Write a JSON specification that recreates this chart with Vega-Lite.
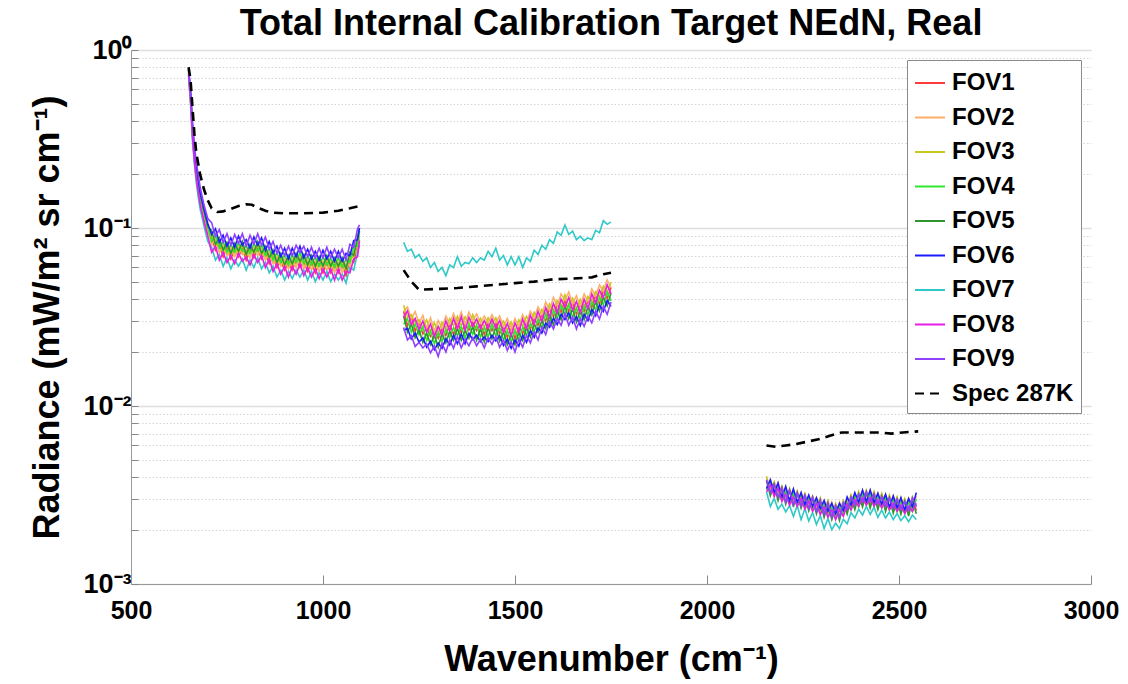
{
"$schema": "https://vega.github.io/schema/vega-lite/v6.json",
"width": 960, "height": 534,
"autosize": "none",
"padding": {"left": 131, "top": 50, "right": 37, "bottom": 100},
"background": "white",
"title": {"text": "Total Internal Calibration Target NEdN, Real", "font": "Liberation Sans", "fontSize": 36, "fontWeight": "bold", "color": "black", "anchor": "middle", "baseline": "alphabetic", "offset": 2, "dy": 37},
"config": {
  "view": {"stroke": null},
  "legend": {"orient": "top-right", "offset": 10, "fillColor": "white", "strokeColor": "#8a8a8a", "padding": 7, "title": null,
    "labelFont": "Liberation Sans", "labelFontSize": 24, "labelFontWeight": "bold", "labelColor": "black", "labelOffset": 6,
    "symbolType": "stroke", "symbolSize": 900, "symbolStrokeWidth": 2, "rowPadding": 6.5, "labelLimit": 300}
},
"datasets": {
"fov": [
{"b":"L","x":650,"FOV1":0.72,"FOV2":0.74,"FOV3":0.75,"FOV4":0.76,"FOV5":0.77,"FOV6":0.77,"FOV7":0.72,"FOV8":0.74,"FOV9":0.78},
{"b":"L","x":655,"FOV1":0.52,"FOV2":0.54,"FOV3":0.55,"FOV4":0.56,"FOV5":0.57,"FOV6":0.58,"FOV7":0.50,"FOV8":0.53,"FOV9":0.60},
{"b":"L","x":660,"FOV1":0.33,"FOV2":0.34,"FOV3":0.35,"FOV4":0.36,"FOV5":0.37,"FOV6":0.38,"FOV7":0.31,"FOV8":0.33,"FOV9":0.40},
{"b":"L","x":665,"FOV1":0.245,"FOV2":0.25,"FOV3":0.26,"FOV4":0.265,"FOV5":0.27,"FOV6":0.28,"FOV7":0.23,"FOV8":0.24,"FOV9":0.29},
{"b":"L","x":670,"FOV1":0.195,"FOV2":0.2,"FOV3":0.21,"FOV4":0.215,"FOV5":0.22,"FOV6":0.225,"FOV7":0.18,"FOV8":0.19,"FOV9":0.235},
{"b":"L","x":675,"FOV1":0.165,"FOV2":0.17,"FOV3":0.175,"FOV4":0.178,"FOV5":0.18,"FOV6":0.19,"FOV7":0.15,"FOV8":0.16,"FOV9":0.2},
{"b":"L","x":680,"FOV1":0.14,"FOV2":0.145,"FOV3":0.15,"FOV4":0.152,"FOV5":0.155,"FOV6":0.16,"FOV7":0.128,"FOV8":0.136,"FOV9":0.17},
{"b":"L","x":690,"FOV1":0.113,"FOV2":0.117,"FOV3":0.12,"FOV4":0.122,"FOV5":0.125,"FOV6":0.128,"FOV7":0.103,"FOV8":0.109,"FOV9":0.135},
{"b":"L","x":700,"FOV1":0.093,"FOV2":0.097,"FOV3":0.098,"FOV4":0.101,"FOV5":0.102,"FOV6":0.106,"FOV7":0.084,"FOV8":0.09,"FOV9":0.113},
{"b":"L","x":710,"FOV1":0.089,"FOV2":0.081,"FOV3":0.091,"FOV4":0.084,"FOV5":0.097,"FOV6":0.092,"FOV7":0.078,"FOV8":0.073,"FOV9":0.107},
{"b":"L","x":720,"FOV1":0.075,"FOV2":0.087,"FOV3":0.079,"FOV4":0.092,"FOV5":0.081,"FOV6":0.099,"FOV7":0.066,"FOV8":0.079,"FOV9":0.09},
{"b":"L","x":730,"FOV1":0.081,"FOV2":0.073,"FOV3":0.084,"FOV4":0.077,"FOV5":0.088,"FOV6":0.083,"FOV7":0.071,"FOV8":0.066,"FOV9":0.098},
{"b":"L","x":740,"FOV1":0.069,"FOV2":0.079,"FOV3":0.072,"FOV4":0.084,"FOV5":0.075,"FOV6":0.091,"FOV7":0.061,"FOV8":0.073,"FOV9":0.083},
{"b":"L","x":750,"FOV1":0.078,"FOV2":0.07,"FOV3":0.081,"FOV4":0.073,"FOV5":0.083,"FOV6":0.079,"FOV7":0.068,"FOV8":0.064,"FOV9":0.093},
{"b":"L","x":760,"FOV1":0.067,"FOV2":0.077,"FOV3":0.07,"FOV4":0.081,"FOV5":0.072,"FOV6":0.088,"FOV7":0.059,"FOV8":0.07,"FOV9":0.08},
{"b":"L","x":770,"FOV1":0.076,"FOV2":0.069,"FOV3":0.079,"FOV4":0.073,"FOV5":0.082,"FOV6":0.078,"FOV7":0.066,"FOV8":0.063,"FOV9":0.092},
{"b":"L","x":780,"FOV1":0.069,"FOV2":0.079,"FOV3":0.072,"FOV4":0.083,"FOV5":0.074,"FOV6":0.09,"FOV7":0.061,"FOV8":0.072,"FOV9":0.082},
{"b":"L","x":790,"FOV1":0.077,"FOV2":0.071,"FOV3":0.08,"FOV4":0.074,"FOV5":0.084,"FOV6":0.08,"FOV7":0.067,"FOV8":0.065,"FOV9":0.093},
{"b":"L","x":800,"FOV1":0.066,"FOV2":0.076,"FOV3":0.069,"FOV4":0.08,"FOV5":0.071,"FOV6":0.086,"FOV7":0.058,"FOV8":0.069,"FOV9":0.079},
{"b":"L","x":810,"FOV1":0.075,"FOV2":0.068,"FOV3":0.078,"FOV4":0.072,"FOV5":0.081,"FOV6":0.077,"FOV7":0.066,"FOV8":0.062,"FOV9":0.091},
{"b":"L","x":820,"FOV1":0.068,"FOV2":0.078,"FOV3":0.071,"FOV4":0.082,"FOV5":0.073,"FOV6":0.089,"FOV7":0.06,"FOV8":0.071,"FOV9":0.081},
{"b":"L","x":830,"FOV1":0.077,"FOV2":0.07,"FOV3":0.08,"FOV4":0.074,"FOV5":0.084,"FOV6":0.08,"FOV7":0.068,"FOV8":0.064,"FOV9":0.093},
{"b":"L","x":840,"FOV1":0.067,"FOV2":0.077,"FOV3":0.07,"FOV4":0.081,"FOV5":0.072,"FOV6":0.088,"FOV7":0.059,"FOV8":0.07,"FOV9":0.08},
{"b":"L","x":850,"FOV1":0.073,"FOV2":0.066,"FOV3":0.076,"FOV4":0.07,"FOV5":0.079,"FOV6":0.075,"FOV7":0.064,"FOV8":0.06,"FOV9":0.089},
{"b":"L","x":860,"FOV1":0.063,"FOV2":0.073,"FOV3":0.066,"FOV4":0.077,"FOV5":0.068,"FOV6":0.084,"FOV7":0.056,"FOV8":0.067,"FOV9":0.076},
{"b":"L","x":870,"FOV1":0.069,"FOV2":0.063,"FOV3":0.072,"FOV4":0.066,"FOV5":0.075,"FOV6":0.072,"FOV7":0.061,"FOV8":0.057,"FOV9":0.084},
{"b":"L","x":880,"FOV1":0.06,"FOV2":0.069,"FOV3":0.062,"FOV4":0.073,"FOV5":0.064,"FOV6":0.079,"FOV7":0.053,"FOV8":0.063,"FOV9":0.072},
{"b":"L","x":890,"FOV1":0.066,"FOV2":0.061,"FOV3":0.069,"FOV4":0.064,"FOV5":0.072,"FOV6":0.069,"FOV7":0.058,"FOV8":0.055,"FOV9":0.08},
{"b":"L","x":900,"FOV1":0.058,"FOV2":0.067,"FOV3":0.061,"FOV4":0.071,"FOV5":0.062,"FOV6":0.077,"FOV7":0.051,"FOV8":0.061,"FOV9":0.07},
{"b":"L","x":910,"FOV1":0.064,"FOV2":0.059,"FOV3":0.067,"FOV4":0.062,"FOV5":0.07,"FOV6":0.067,"FOV7":0.057,"FOV8":0.053,"FOV9":0.079},
{"b":"L","x":920,"FOV1":0.058,"FOV2":0.067,"FOV3":0.061,"FOV4":0.071,"FOV5":0.063,"FOV6":0.077,"FOV7":0.052,"FOV8":0.061,"FOV9":0.07},
{"b":"L","x":930,"FOV1":0.066,"FOV2":0.06,"FOV3":0.069,"FOV4":0.064,"FOV5":0.072,"FOV6":0.069,"FOV7":0.058,"FOV8":0.055,"FOV9":0.08},
{"b":"L","x":940,"FOV1":0.06,"FOV2":0.069,"FOV3":0.063,"FOV4":0.073,"FOV5":0.065,"FOV6":0.079,"FOV7":0.053,"FOV8":0.063,"FOV9":0.073},
{"b":"L","x":950,"FOV1":0.065,"FOV2":0.059,"FOV3":0.068,"FOV4":0.063,"FOV5":0.071,"FOV6":0.068,"FOV7":0.058,"FOV8":0.054,"FOV9":0.079},
{"b":"L","x":960,"FOV1":0.057,"FOV2":0.066,"FOV3":0.06,"FOV4":0.07,"FOV5":0.062,"FOV6":0.076,"FOV7":0.051,"FOV8":0.06,"FOV9":0.069},
{"b":"L","x":970,"FOV1":0.064,"FOV2":0.058,"FOV3":0.067,"FOV4":0.062,"FOV5":0.07,"FOV6":0.067,"FOV7":0.057,"FOV8":0.053,"FOV9":0.078},
{"b":"L","x":980,"FOV1":0.056,"FOV2":0.065,"FOV3":0.059,"FOV4":0.069,"FOV5":0.061,"FOV6":0.074,"FOV7":0.05,"FOV8":0.059,"FOV9":0.068},
{"b":"L","x":990,"FOV1":0.063,"FOV2":0.057,"FOV3":0.066,"FOV4":0.061,"FOV5":0.069,"FOV6":0.066,"FOV7":0.056,"FOV8":0.052,"FOV9":0.077},
{"b":"L","x":1000,"FOV1":0.056,"FOV2":0.065,"FOV3":0.06,"FOV4":0.069,"FOV5":0.061,"FOV6":0.075,"FOV7":0.051,"FOV8":0.059,"FOV9":0.068},
{"b":"L","x":1010,"FOV1":0.064,"FOV2":0.058,"FOV3":0.067,"FOV4":0.062,"FOV5":0.07,"FOV6":0.067,"FOV7":0.057,"FOV8":0.053,"FOV9":0.078},
{"b":"L","x":1020,"FOV1":0.056,"FOV2":0.065,"FOV3":0.059,"FOV4":0.068,"FOV5":0.061,"FOV6":0.074,"FOV7":0.05,"FOV8":0.059,"FOV9":0.068},
{"b":"L","x":1030,"FOV1":0.062,"FOV2":0.056,"FOV3":0.065,"FOV4":0.06,"FOV5":0.068,"FOV6":0.065,"FOV7":0.055,"FOV8":0.051,"FOV9":0.076},
{"b":"L","x":1040,"FOV1":0.056,"FOV2":0.065,"FOV3":0.059,"FOV4":0.069,"FOV5":0.061,"FOV6":0.074,"FOV7":0.051,"FOV8":0.059,"FOV9":0.068},
{"b":"L","x":1050,"FOV1":0.062,"FOV2":0.056,"FOV3":0.065,"FOV4":0.06,"FOV5":0.068,"FOV6":0.065,"FOV7":0.055,"FOV8":0.051,"FOV9":0.076},
{"b":"L","x":1060,"FOV1":0.054,"FOV2":0.063,"FOV3":0.058,"FOV4":0.067,"FOV5":0.059,"FOV6":0.072,"FOV7":0.049,"FOV8":0.057,"FOV9":0.066},
{"b":"L","x":1070,"FOV1":0.067,"FOV2":0.061,"FOV3":0.07,"FOV4":0.064,"FOV5":0.073,"FOV6":0.07,"FOV7":0.06,"FOV8":0.056,"FOV9":0.081},
{"b":"L","x":1080,"FOV1":0.064,"FOV2":0.074,"FOV3":0.068,"FOV4":0.079,"FOV5":0.07,"FOV6":0.085,"FOV7":0.058,"FOV8":0.067,"FOV9":0.078},
{"b":"L","x":1090,"FOV1":0.082,"FOV2":0.075,"FOV3":0.085,"FOV4":0.079,"FOV5":0.089,"FOV6":0.086,"FOV7":0.073,"FOV8":0.069,"FOV9":0.099},
{"b":"L","x":1095,"FOV1":0.086,"FOV2":0.09,"FOV3":0.093,"FOV4":0.096,"FOV5":0.1,"FOV6":0.1,"FOV7":0.08,"FOV8":0.085,"FOV9":0.104},
{"b":"M","x":1210,"FOV1":0.034,"FOV2":0.034,"FOV3":0.0368,"FOV4":0.0288,"FOV5":0.0321,"FOV6":0.0266,"FOV7":0.083,"FOV8":0.0316,"FOV9":0.0276},
{"b":"M","x":1220,"FOV1":0.0282,"FOV2":0.036,"FOV3":0.0314,"FOV4":0.031,"FOV5":0.026,"FOV6":0.0273,"FOV7":0.074,"FOV8":0.0342,"FOV9":0.0235},
{"b":"M","x":1230,"FOV1":0.0318,"FOV2":0.031,"FOV3":0.0326,"FOV4":0.026,"FOV5":0.0289,"FOV6":0.0238,"FOV7":0.076,"FOV8":0.0288,"FOV9":0.0249},
{"b":"M","x":1240,"FOV1":0.0263,"FOV2":0.0339,"FOV3":0.0295,"FOV4":0.0289,"FOV5":0.0242,"FOV6":0.0257,"FOV7":0.068,"FOV8":0.031,"FOV9":0.0216},
{"b":"M","x":1250,"FOV1":0.0297,"FOV2":0.0291,"FOV3":0.0305,"FOV4":0.0251,"FOV5":0.0268,"FOV6":0.0228,"FOV7":0.071,"FOV8":0.027,"FOV9":0.0228},
{"b":"M","x":1260,"FOV1":0.0254,"FOV2":0.0323,"FOV3":0.0276,"FOV4":0.0278,"FOV5":0.0228,"FOV6":0.0242,"FOV7":0.065,"FOV8":0.03,"FOV9":0.0212},
{"b":"M","x":1270,"FOV1":0.0276,"FOV2":0.0273,"FOV3":0.0305,"FOV4":0.0233,"FOV5":0.0257,"FOV6":0.0214,"FOV7":0.068,"FOV8":0.026,"FOV9":0.0223},
{"b":"M","x":1280,"FOV1":0.0246,"FOV2":0.0313,"FOV3":0.0261,"FOV4":0.0265,"FOV5":0.0221,"FOV6":0.0231,"FOV7":0.06,"FOV8":0.0289,"FOV9":0.0199},
{"b":"M","x":1290,"FOV1":0.0265,"FOV2":0.0263,"FOV3":0.0294,"FOV4":0.0223,"FOV5":0.0251,"FOV6":0.0207,"FOV7":0.064,"FOV8":0.0246,"FOV9":0.0217},
{"b":"M","x":1300,"FOV1":0.024,"FOV2":0.0302,"FOV3":0.0257,"FOV4":0.0259,"FOV5":0.0214,"FOV6":0.0226,"FOV7":0.057,"FOV8":0.028,"FOV9":0.019},
{"b":"M","x":1310,"FOV1":0.0273,"FOV2":0.0274,"FOV3":0.0296,"FOV4":0.0231,"FOV5":0.0255,"FOV6":0.0211,"FOV7":0.06,"FOV8":0.0251,"FOV9":0.0225},
{"b":"M","x":1320,"FOV1":0.0249,"FOV2":0.032,"FOV3":0.0274,"FOV4":0.027,"FOV5":0.0226,"FOV6":0.0239,"FOV7":0.054,"FOV8":0.0301,"FOV9":0.0201},
{"b":"M","x":1330,"FOV1":0.0288,"FOV2":0.0288,"FOV3":0.031,"FOV4":0.0242,"FOV5":0.0263,"FOV6":0.022,"FOV7":0.062,"FOV8":0.0265,"FOV9":0.0235},
{"b":"M","x":1340,"FOV1":0.0252,"FOV2":0.0331,"FOV3":0.0283,"FOV4":0.0276,"FOV5":0.0234,"FOV6":0.025,"FOV7":0.06,"FOV8":0.031,"FOV9":0.0211},
{"b":"M","x":1350,"FOV1":0.0299,"FOV2":0.029,"FOV3":0.0319,"FOV4":0.0249,"FOV5":0.0274,"FOV6":0.0224,"FOV7":0.069,"FOV8":0.0272,"FOV9":0.0246},
{"b":"M","x":1360,"FOV1":0.0259,"FOV2":0.0337,"FOV3":0.0283,"FOV4":0.028,"FOV5":0.0234,"FOV6":0.0254,"FOV7":0.061,"FOV8":0.0317,"FOV9":0.0212},
{"b":"M","x":1370,"FOV1":0.0288,"FOV2":0.0288,"FOV3":0.0317,"FOV4":0.024,"FOV5":0.0265,"FOV6":0.0224,"FOV7":0.064,"FOV8":0.0266,"FOV9":0.0237},
{"b":"M","x":1380,"FOV1":0.0267,"FOV2":0.0337,"FOV3":0.0287,"FOV4":0.0287,"FOV5":0.024,"FOV6":0.0256,"FOV7":0.063,"FOV8":0.0315,"FOV9":0.0218},
{"b":"M","x":1390,"FOV1":0.0295,"FOV2":0.0303,"FOV3":0.0326,"FOV4":0.0253,"FOV5":0.028,"FOV6":0.0236,"FOV7":0.068,"FOV8":0.0281,"FOV9":0.0242},
{"b":"M","x":1400,"FOV1":0.0265,"FOV2":0.0329,"FOV3":0.0287,"FOV4":0.0285,"FOV5":0.0234,"FOV6":0.025,"FOV7":0.064,"FOV8":0.0308,"FOV9":0.0218},
{"b":"M","x":1410,"FOV1":0.0288,"FOV2":0.0293,"FOV3":0.0311,"FOV4":0.0244,"FOV5":0.0272,"FOV6":0.023,"FOV7":0.068,"FOV8":0.0273,"FOV9":0.0237},
{"b":"M","x":1420,"FOV1":0.0252,"FOV2":0.032,"FOV3":0.0277,"FOV4":0.0276,"FOV5":0.0229,"FOV6":0.0244,"FOV7":0.066,"FOV8":0.0302,"FOV9":0.0212},
{"b":"M","x":1430,"FOV1":0.0293,"FOV2":0.0293,"FOV3":0.0313,"FOV4":0.0244,"FOV5":0.0276,"FOV6":0.023,"FOV7":0.074,"FOV8":0.0273,"FOV9":0.0242},
{"b":"M","x":1440,"FOV1":0.0265,"FOV2":0.0326,"FOV3":0.0289,"FOV4":0.0289,"FOV5":0.0238,"FOV6":0.025,"FOV7":0.069,"FOV8":0.0308,"FOV9":0.0222},
{"b":"M","x":1450,"FOV1":0.0293,"FOV2":0.0295,"FOV3":0.0313,"FOV4":0.0247,"FOV5":0.0278,"FOV6":0.0232,"FOV7":0.077,"FOV8":0.0275,"FOV9":0.0246},
{"b":"M","x":1460,"FOV1":0.0256,"FOV2":0.032,"FOV3":0.0279,"FOV4":0.0278,"FOV5":0.0231,"FOV6":0.0248,"FOV7":0.066,"FOV8":0.0302,"FOV9":0.0214},
{"b":"M","x":1470,"FOV1":0.0278,"FOV2":0.028,"FOV3":0.03,"FOV4":0.0234,"FOV5":0.0261,"FOV6":0.0219,"FOV7":0.07,"FOV8":0.026,"FOV9":0.0235},
{"b":"M","x":1480,"FOV1":0.0243,"FOV2":0.031,"FOV3":0.0266,"FOV4":0.0265,"FOV5":0.0221,"FOV6":0.0237,"FOV7":0.062,"FOV8":0.0291,"FOV9":0.0205},
{"b":"M","x":1490,"FOV1":0.0278,"FOV2":0.0271,"FOV3":0.0296,"FOV4":0.0229,"FOV5":0.0253,"FOV6":0.0211,"FOV7":0.069,"FOV8":0.0249,"FOV9":0.0229},
{"b":"M","x":1500,"FOV1":0.024,"FOV2":0.031,"FOV3":0.0262,"FOV4":0.0265,"FOV5":0.0221,"FOV6":0.0235,"FOV7":0.062,"FOV8":0.0293,"FOV9":0.0201},
{"b":"M","x":1510,"FOV1":0.0278,"FOV2":0.028,"FOV3":0.0305,"FOV4":0.0234,"FOV5":0.0259,"FOV6":0.0217,"FOV7":0.069,"FOV8":0.026,"FOV9":0.0237},
{"b":"M","x":1520,"FOV1":0.0256,"FOV2":0.0326,"FOV3":0.0281,"FOV4":0.0278,"FOV5":0.0233,"FOV6":0.025,"FOV7":0.06,"FOV8":0.0308,"FOV9":0.0214},
{"b":"M","x":1530,"FOV1":0.0295,"FOV2":0.0291,"FOV3":0.0319,"FOV4":0.0249,"FOV5":0.0276,"FOV6":0.0228,"FOV7":0.068,"FOV8":0.0272,"FOV9":0.025},
{"b":"M","x":1540,"FOV1":0.0271,"FOV2":0.0341,"FOV3":0.0295,"FOV4":0.0291,"FOV5":0.0244,"FOV6":0.0265,"FOV7":0.065,"FOV8":0.0323,"FOV9":0.0226},
{"b":"M","x":1550,"FOV1":0.031,"FOV2":0.0312,"FOV3":0.0336,"FOV4":0.0262,"FOV5":0.0289,"FOV6":0.0243,"FOV7":0.075,"FOV8":0.0288,"FOV9":0.0261},
{"b":"M","x":1560,"FOV1":0.0284,"FOV2":0.036,"FOV3":0.0312,"FOV4":0.0308,"FOV5":0.026,"FOV6":0.0275,"FOV7":0.071,"FOV8":0.034,"FOV9":0.0235},
{"b":"M","x":1570,"FOV1":0.0326,"FOV2":0.0327,"FOV3":0.0349,"FOV4":0.0273,"FOV5":0.0302,"FOV6":0.0257,"FOV7":0.08,"FOV8":0.0299,"FOV9":0.0278},
{"b":"M","x":1580,"FOV1":0.0301,"FOV2":0.0384,"FOV3":0.0325,"FOV4":0.033,"FOV5":0.0272,"FOV6":0.0292,"FOV7":0.076,"FOV8":0.0357,"FOV9":0.0252},
{"b":"M","x":1590,"FOV1":0.0352,"FOV2":0.0346,"FOV3":0.0374,"FOV4":0.029,"FOV5":0.0323,"FOV6":0.0277,"FOV7":0.086,"FOV8":0.0314,"FOV9":0.0299},
{"b":"M","x":1600,"FOV1":0.0318,"FOV2":0.0407,"FOV3":0.0342,"FOV4":0.0345,"FOV5":0.0286,"FOV6":0.0311,"FOV7":0.082,"FOV8":0.0377,"FOV9":0.0271},
{"b":"M","x":1610,"FOV1":0.0373,"FOV2":0.0365,"FOV3":0.0391,"FOV4":0.0309,"FOV5":0.0345,"FOV6":0.0287,"FOV7":0.095,"FOV8":0.0333,"FOV9":0.031},
{"b":"M","x":1620,"FOV1":0.0337,"FOV2":0.0426,"FOV3":0.0363,"FOV4":0.0366,"FOV5":0.0305,"FOV6":0.0328,"FOV7":0.091,"FOV8":0.0398,"FOV9":0.0284},
{"b":"M","x":1630,"FOV1":0.0394,"FOV2":0.0393,"FOV3":0.0422,"FOV4":0.0327,"FOV5":0.0366,"FOV6":0.0306,"FOV7":0.104,"FOV8":0.0361,"FOV9":0.0331},
{"b":"M","x":1640,"FOV1":0.034,"FOV2":0.0437,"FOV3":0.0369,"FOV4":0.0372,"FOV5":0.0309,"FOV6":0.0334,"FOV7":0.092,"FOV8":0.0407,"FOV9":0.0284},
{"b":"M","x":1650,"FOV1":0.0379,"FOV2":0.0374,"FOV3":0.0403,"FOV4":0.0314,"FOV5":0.0351,"FOV6":0.0293,"FOV7":0.096,"FOV8":0.0346,"FOV9":0.0316},
{"b":"M","x":1660,"FOV1":0.0327,"FOV2":0.0416,"FOV3":0.0353,"FOV4":0.0355,"FOV5":0.0296,"FOV6":0.0317,"FOV7":0.086,"FOV8":0.0387,"FOV9":0.0271},
{"b":"M","x":1670,"FOV1":0.0373,"FOV2":0.0365,"FOV3":0.0397,"FOV4":0.0305,"FOV5":0.0345,"FOV6":0.0283,"FOV7":0.09,"FOV8":0.0333,"FOV9":0.031},
{"b":"M","x":1680,"FOV1":0.034,"FOV2":0.0426,"FOV3":0.0363,"FOV4":0.0366,"FOV5":0.0305,"FOV6":0.0328,"FOV7":0.085,"FOV8":0.0398,"FOV9":0.028},
{"b":"M","x":1690,"FOV1":0.039,"FOV2":0.0387,"FOV3":0.0412,"FOV4":0.0324,"FOV5":0.0362,"FOV6":0.0302,"FOV7":0.088,"FOV8":0.0352,"FOV9":0.032},
{"b":"M","x":1700,"FOV1":0.0359,"FOV2":0.0454,"FOV3":0.039,"FOV4":0.0387,"FOV5":0.0324,"FOV6":0.0349,"FOV7":0.086,"FOV8":0.0426,"FOV9":0.0293},
{"b":"M","x":1710,"FOV1":0.0416,"FOV2":0.0415,"FOV3":0.0439,"FOV4":0.0346,"FOV5":0.0387,"FOV6":0.0321,"FOV7":0.097,"FOV8":0.0379,"FOV9":0.0341},
{"b":"M","x":1720,"FOV1":0.0374,"FOV2":0.0479,"FOV3":0.041,"FOV4":0.0409,"FOV5":0.0342,"FOV6":0.037,"FOV7":0.094,"FOV8":0.0447,"FOV9":0.0308},
{"b":"M","x":1730,"FOV1":0.0447,"FOV2":0.044,"FOV3":0.047,"FOV4":0.037,"FOV5":0.0409,"FOV6":0.034,"FOV7":0.11,"FOV8":0.0407,"FOV9":0.0363},
{"b":"M","x":1740,"FOV1":0.0402,"FOV2":0.0511,"FOV3":0.0435,"FOV4":0.0437,"FOV5":0.0365,"FOV6":0.0391,"FOV7":0.105,"FOV8":0.0479,"FOV9":0.0327},
{"b":"M","x":1750,"FOV1":0.0464,"FOV2":0.0462,"FOV3":0.0496,"FOV4":0.0389,"FOV5":0.043,"FOV6":0.0363,"FOV7":0.108,"FOV8":0.0426,"FOV9":0.0384},
{"b":"S","x":2155,"FOV1":0.00385,"FOV2":0.00344,"FOV3":0.00403,"FOV4":0.00338,"FOV5":0.00378,"FOV6":0.00344,"FOV7":0.00329,"FOV8":0.00329,"FOV9":0.00385},
{"b":"S","x":2165,"FOV1":0.00326,"FOV2":0.00385,"FOV3":0.00338,"FOV4":0.00376,"FOV5":0.00313,"FOV6":0.00385,"FOV7":0.00273,"FOV8":0.0036,"FOV9":0.00326},
{"b":"S","x":2175,"FOV1":0.00369,"FOV2":0.00316,"FOV3":0.00376,"FOV4":0.0032,"FOV5":0.00362,"FOV6":0.00326,"FOV7":0.00302,"FOV8":0.0031,"FOV9":0.00364},
{"b":"S","x":2185,"FOV1":0.00307,"FOV2":0.00369,"FOV3":0.0032,"FOV4":0.0035,"FOV5":0.00294,"FOV6":0.00369,"FOV7":0.00263,"FOV8":0.00345,"FOV9":0.00307},
{"b":"S","x":2195,"FOV1":0.00342,"FOV2":0.00307,"FOV3":0.00355,"FOV4":0.00296,"FOV5":0.00346,"FOV6":0.00307,"FOV7":0.00281,"FOV8":0.00291,"FOV9":0.00348},
{"b":"S","x":2205,"FOV1":0.00293,"FOV2":0.00348,"FOV3":0.00301,"FOV4":0.00329,"FOV5":0.00281,"FOV6":0.00353,"FOV7":0.00254,"FOV8":0.00318,"FOV9":0.00288},
{"b":"S","x":2215,"FOV1":0.00332,"FOV2":0.00288,"FOV3":0.00345,"FOV4":0.00282,"FOV5":0.00335,"FOV6":0.00293,"FOV7":0.00276,"FOV8":0.00277,"FOV9":0.00337},
{"b":"S","x":2225,"FOV1":0.00279,"FOV2":0.00337,"FOV3":0.00291,"FOV4":0.00323,"FOV5":0.00271,"FOV6":0.00342,"FOV7":0.0024,"FOV8":0.00307,"FOV9":0.00279},
{"b":"S","x":2235,"FOV1":0.00326,"FOV2":0.00279,"FOV3":0.00334,"FOV4":0.00277,"FOV5":0.00324,"FOV6":0.00288,"FOV7":0.00276,"FOV8":0.00273,"FOV9":0.00326},
{"b":"S","x":2245,"FOV1":0.00274,"FOV2":0.00326,"FOV3":0.00282,"FOV4":0.00313,"FOV5":0.00267,"FOV6":0.00326,"FOV7":0.0023,"FOV8":0.00302,"FOV9":0.00274},
{"b":"S","x":2255,"FOV1":0.0031,"FOV2":0.00274,"FOV3":0.00323,"FOV4":0.00268,"FOV5":0.00313,"FOV6":0.00279,"FOV7":0.00265,"FOV8":0.00263,"FOV9":0.00316},
{"b":"S","x":2265,"FOV1":0.00265,"FOV2":0.0031,"FOV3":0.00277,"FOV4":0.00302,"FOV5":0.00258,"FOV6":0.00316,"FOV7":0.00226,"FOV8":0.00292,"FOV9":0.00265},
{"b":"S","x":2275,"FOV1":0.00305,"FOV2":0.00265,"FOV3":0.00313,"FOV4":0.00259,"FOV5":0.00302,"FOV6":0.00274,"FOV7":0.00252,"FOV8":0.00256,"FOV9":0.00308},
{"b":"S","x":2285,"FOV1":0.00256,"FOV2":0.00305,"FOV3":0.00268,"FOV4":0.00292,"FOV5":0.00248,"FOV6":0.00305,"FOV7":0.00216,"FOV8":0.00284,"FOV9":0.00256},
{"b":"S","x":2295,"FOV1":0.00294,"FOV2":0.00253,"FOV3":0.00305,"FOV4":0.00249,"FOV5":0.00289,"FOV6":0.00265,"FOV7":0.00242,"FOV8":0.00246,"FOV9":0.00297},
{"b":"S","x":2305,"FOV1":0.00246,"FOV2":0.00294,"FOV3":0.00259,"FOV4":0.00281,"FOV5":0.00237,"FOV6":0.00294,"FOV7":0.00205,"FOV8":0.0027,"FOV9":0.00246},
{"b":"S","x":2315,"FOV1":0.00284,"FOV2":0.00246,"FOV3":0.00295,"FOV4":0.0024,"FOV5":0.00279,"FOV6":0.00256,"FOV7":0.00233,"FOV8":0.00237,"FOV9":0.00287},
{"b":"S","x":2325,"FOV1":0.00237,"FOV2":0.00287,"FOV3":0.00249,"FOV4":0.0027,"FOV5":0.0023,"FOV6":0.00284,"FOV7":0.00202,"FOV8":0.0026,"FOV9":0.00237},
{"b":"S","x":2335,"FOV1":0.00276,"FOV2":0.00237,"FOV3":0.00284,"FOV4":0.00233,"FOV5":0.0027,"FOV6":0.00249,"FOV7":0.0022,"FOV8":0.0023,"FOV9":0.00276},
{"b":"S","x":2345,"FOV1":0.00237,"FOV2":0.00287,"FOV3":0.00249,"FOV4":0.00273,"FOV5":0.00228,"FOV6":0.00284,"FOV7":0.00205,"FOV8":0.00263,"FOV9":0.00237},
{"b":"S","x":2355,"FOV1":0.00287,"FOV2":0.00246,"FOV3":0.00295,"FOV4":0.00243,"FOV5":0.00281,"FOV6":0.00259,"FOV7":0.00231,"FOV8":0.0024,"FOV9":0.00287},
{"b":"S","x":2365,"FOV1":0.00256,"FOV2":0.00302,"FOV3":0.00271,"FOV4":0.00288,"FOV5":0.00247,"FOV6":0.00308,"FOV7":0.00218,"FOV8":0.00281,"FOV9":0.00262},
{"b":"S","x":2375,"FOV1":0.00308,"FOV2":0.00268,"FOV3":0.00318,"FOV4":0.00261,"FOV5":0.00305,"FOV6":0.00277,"FOV7":0.00252,"FOV8":0.00261,"FOV9":0.00308},
{"b":"S","x":2385,"FOV1":0.00268,"FOV2":0.00321,"FOV3":0.0028,"FOV4":0.0031,"FOV5":0.00262,"FOV6":0.00326,"FOV7":0.00235,"FOV8":0.00297,"FOV9":0.00279},
{"b":"S","x":2395,"FOV1":0.00321,"FOV2":0.00277,"FOV3":0.00331,"FOV4":0.00271,"FOV5":0.00319,"FOV6":0.00288,"FOV7":0.00263,"FOV8":0.00273,"FOV9":0.00319},
{"b":"S","x":2405,"FOV1":0.00277,"FOV2":0.00334,"FOV3":0.0029,"FOV4":0.00318,"FOV5":0.00271,"FOV6":0.00337,"FOV7":0.00244,"FOV8":0.00305,"FOV9":0.0029},
{"b":"S","x":2415,"FOV1":0.00326,"FOV2":0.00284,"FOV3":0.00337,"FOV4":0.0028,"FOV5":0.00326,"FOV6":0.0029,"FOV7":0.00273,"FOV8":0.00277,"FOV9":0.0033},
{"b":"S","x":2425,"FOV1":0.00277,"FOV2":0.00334,"FOV3":0.0029,"FOV4":0.0032,"FOV5":0.00267,"FOV6":0.00337,"FOV7":0.00246,"FOV8":0.00305,"FOV9":0.0029},
{"b":"S","x":2435,"FOV1":0.00323,"FOV2":0.00277,"FOV3":0.00331,"FOV4":0.00273,"FOV5":0.00319,"FOV6":0.00286,"FOV7":0.0027,"FOV8":0.00274,"FOV9":0.00321},
{"b":"S","x":2445,"FOV1":0.0027,"FOV2":0.00323,"FOV3":0.0028,"FOV4":0.0031,"FOV5":0.00262,"FOV6":0.00323,"FOV7":0.00237,"FOV8":0.00297,"FOV9":0.00281},
{"b":"S","x":2455,"FOV1":0.00316,"FOV2":0.00272,"FOV3":0.00323,"FOV4":0.00268,"FOV5":0.00311,"FOV6":0.00281,"FOV7":0.0026,"FOV8":0.00268,"FOV9":0.0031},
{"b":"S","x":2465,"FOV1":0.00265,"FOV2":0.00316,"FOV3":0.00274,"FOV4":0.00305,"FOV5":0.00256,"FOV6":0.00319,"FOV7":0.00235,"FOV8":0.00292,"FOV9":0.00274},
{"b":"S","x":2475,"FOV1":0.00308,"FOV2":0.00265,"FOV3":0.00316,"FOV4":0.00261,"FOV5":0.00305,"FOV6":0.0027,"FOV7":0.00254,"FOV8":0.00261,"FOV9":0.00305},
{"b":"S","x":2485,"FOV1":0.00259,"FOV2":0.00312,"FOV3":0.00271,"FOV4":0.00299,"FOV5":0.0025,"FOV6":0.00312,"FOV7":0.0023,"FOV8":0.00284,"FOV9":0.00268},
{"b":"S","x":2495,"FOV1":0.00302,"FOV2":0.00259,"FOV3":0.00309,"FOV4":0.00256,"FOV5":0.00297,"FOV6":0.00268,"FOV7":0.00249,"FOV8":0.00256,"FOV9":0.003},
{"b":"S","x":2505,"FOV1":0.00253,"FOV2":0.00305,"FOV3":0.00263,"FOV4":0.00292,"FOV5":0.00247,"FOV6":0.00305,"FOV7":0.00227,"FOV8":0.00278,"FOV9":0.00262},
{"b":"S","x":2515,"FOV1":0.00294,"FOV2":0.00256,"FOV3":0.00302,"FOV4":0.00249,"FOV5":0.00292,"FOV6":0.0026,"FOV7":0.00242,"FOV8":0.00249,"FOV9":0.00291},
{"b":"S","x":2525,"FOV1":0.00249,"FOV2":0.00302,"FOV3":0.00261,"FOV4":0.00288,"FOV5":0.00241,"FOV6":0.00302,"FOV7":0.00224,"FOV8":0.00273,"FOV9":0.0026},
{"b":"S","x":2535,"FOV1":0.00302,"FOV2":0.00259,"FOV3":0.00309,"FOV4":0.00256,"FOV5":0.00297,"FOV6":0.00272,"FOV7":0.00244,"FOV8":0.00256,"FOV9":0.00305},
{"b":"S","x":2545,"FOV1":0.00259,"FOV2":0.00312,"FOV3":0.00271,"FOV4":0.00299,"FOV5":0.00248,"FOV6":0.00326,"FOV7":0.0023,"FOV8":0.00284,"FOV9":0.00272}
],
"spec": [
{"b":"L","x":650,"s":"Spec 287K","v":0.8},
{"b":"L","x":655,"s":"Spec 287K","v":0.68},
{"b":"L","x":660,"s":"Spec 287K","v":0.48},
{"b":"L","x":665,"s":"Spec 287K","v":0.34},
{"b":"L","x":670,"s":"Spec 287K","v":0.265},
{"b":"L","x":680,"s":"Spec 287K","v":0.2},
{"b":"L","x":690,"s":"Spec 287K","v":0.165},
{"b":"L","x":700,"s":"Spec 287K","v":0.143},
{"b":"L","x":710,"s":"Spec 287K","v":0.129},
{"b":"L","x":725,"s":"Spec 287K","v":0.123},
{"b":"L","x":740,"s":"Spec 287K","v":0.124},
{"b":"L","x":760,"s":"Spec 287K","v":0.128},
{"b":"L","x":780,"s":"Spec 287K","v":0.133},
{"b":"L","x":800,"s":"Spec 287K","v":0.136},
{"b":"L","x":815,"s":"Spec 287K","v":0.135},
{"b":"L","x":830,"s":"Spec 287K","v":0.13},
{"b":"L","x":850,"s":"Spec 287K","v":0.125},
{"b":"L","x":870,"s":"Spec 287K","v":0.122},
{"b":"L","x":900,"s":"Spec 287K","v":0.121},
{"b":"L","x":950,"s":"Spec 287K","v":0.121},
{"b":"L","x":1000,"s":"Spec 287K","v":0.122},
{"b":"L","x":1040,"s":"Spec 287K","v":0.125},
{"b":"L","x":1070,"s":"Spec 287K","v":0.129},
{"b":"L","x":1095,"s":"Spec 287K","v":0.133},
{"b":"M","x":1210,"s":"Spec 287K","v":0.058},
{"b":"M","x":1230,"s":"Spec 287K","v":0.05},
{"b":"M","x":1250,"s":"Spec 287K","v":0.045},
{"b":"M","x":1300,"s":"Spec 287K","v":0.0455},
{"b":"M","x":1350,"s":"Spec 287K","v":0.046},
{"b":"M","x":1400,"s":"Spec 287K","v":0.047},
{"b":"M","x":1450,"s":"Spec 287K","v":0.048},
{"b":"M","x":1500,"s":"Spec 287K","v":0.049},
{"b":"M","x":1550,"s":"Spec 287K","v":0.05},
{"b":"M","x":1600,"s":"Spec 287K","v":0.0515},
{"b":"M","x":1650,"s":"Spec 287K","v":0.052},
{"b":"M","x":1700,"s":"Spec 287K","v":0.0528},
{"b":"M","x":1730,"s":"Spec 287K","v":0.055},
{"b":"M","x":1750,"s":"Spec 287K","v":0.056},
{"b":"S","x":2155,"s":"Spec 287K","v":0.006},
{"b":"S","x":2180,"s":"Spec 287K","v":0.0059},
{"b":"S","x":2205,"s":"Spec 287K","v":0.006},
{"b":"S","x":2230,"s":"Spec 287K","v":0.0061},
{"b":"S","x":2260,"s":"Spec 287K","v":0.0063},
{"b":"S","x":2290,"s":"Spec 287K","v":0.0065},
{"b":"S","x":2320,"s":"Spec 287K","v":0.0068},
{"b":"S","x":2350,"s":"Spec 287K","v":0.0071},
{"b":"S","x":2400,"s":"Spec 287K","v":0.0071},
{"b":"S","x":2450,"s":"Spec 287K","v":0.0071},
{"b":"S","x":2480,"s":"Spec 287K","v":0.007},
{"b":"S","x":2510,"s":"Spec 287K","v":0.0071},
{"b":"S","x":2550,"s":"Spec 287K","v":0.0072}
]
},
"encoding": {
  "x": {"field": "x", "type": "quantitative",
    "scale": {"domain": [500, 3000], "nice": false, "zero": false},
    "axis": {"values": [500, 1000, 1500, 2000, 2500, 3000], "format": "d", "grid": false,
      "title": "Wavenumber (cm⁻¹)", "titleFont": "Liberation Sans", "titleFontSize": 36, "titleFontWeight": "bold", "titleColor": "black", "titlePadding": 19,
      "labelFont": "Liberation Sans", "labelFontSize": 25, "labelFontWeight": "bold", "labelColor": "black", "labelPadding": 23,
      "tickSize": -9, "tickColor": "#888", "domainColor": "#999", "labelFlush": false}},
  "y": {"field": "v", "type": "quantitative",
    "scale": {"type": "log", "domain": [0.001, 1], "nice": false},
    "axis": {"values": [0.001,0.002,0.003,0.004,0.005,0.006,0.007,0.008,0.009,0.01,0.02,0.03,0.04,0.05,0.06,0.07,0.08,0.09,0.1,0.2,0.3,0.4,0.5,0.6,0.7,0.8,0.9,1],
      "labelExpr": "datum.value == 1 ? '10⁰' : datum.value == 0.1 ? '10⁻¹' : datum.value == 0.01 ? '10⁻²' : datum.value == 0.001 ? '10⁻³' : ''",
      "labelOverlap": false,
      "title": "Radiance (mW/m² sr cm⁻¹)", "titleFont": "Liberation Sans", "titleFontSize": 36, "titleFontWeight": "bold", "titleColor": "black", "titlePadding": 16,
      "labelFont": "Liberation Sans", "labelFontSize": 27, "labelFontWeight": "bold", "labelColor": "black", "labelPadding": 7,
      "tickSize": -7, "tickColor": "#888", "domainColor": "#999",
      "grid": true,
      "gridColor": {"condition": {"test": "datum.value == 1 || datum.value == 0.1 || datum.value == 0.01 || datum.value == 0.001", "value": "#dedede"}, "value": "#d4d4d4"},
      "gridDash": {"condition": {"test": "datum.value == 1 || datum.value == 0.1 || datum.value == 0.01 || datum.value == 0.001", "value": []}, "value": [1.5, 2]},
      "gridWidth": {"condition": {"test": "datum.value == 1 || datum.value == 0.1 || datum.value == 0.01 || datum.value == 0.001", "value": 1.5}, "value": 1}}},
  "color": {"field": "s", "type": "nominal",
    "scale": {"domain": ["FOV1","FOV2","FOV3","FOV4","FOV5","FOV6","FOV7","FOV8","FOV9","Spec 287K"],
      "range": ["#ff3c3c","#ffae6a","#c8c81e","#2ee82e","#2f962f","#1c1cff","#2ec8c8","#e61ee6","#9040ff","#000000"]},
    "legend": {"title": null}},
  "strokeDash": {"field": "s", "type": "nominal",
    "scale": {"domain": ["FOV1","FOV2","FOV3","FOV4","FOV5","FOV6","FOV7","FOV8","FOV9","Spec 287K"],
      "range": [[1,0],[1,0],[1,0],[1,0],[1,0],[1,0],[1,0],[1,0],[1,0],[9,6]]},
    "legend": {"title": null}},
  "detail": {"field": "b", "type": "nominal"}
},
"layer": [
  {"data": {"name": "fov"},
   "transform": [{"fold": ["FOV1","FOV2","FOV3","FOV4","FOV5","FOV6","FOV7","FOV8","FOV9"], "as": ["s", "v"]}],
   "mark": {"type": "line", "strokeWidth": 1.6, "clip": true}},
  {"data": {"name": "spec"},
   "mark": {"type": "line", "strokeWidth": 2.6, "clip": true}}
]
}
